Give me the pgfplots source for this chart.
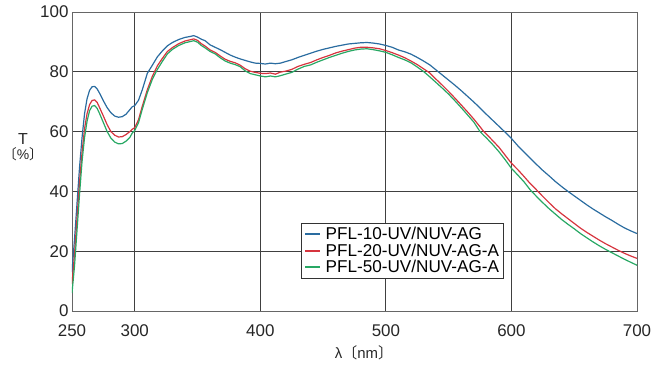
\documentclass[border=0pt]{standalone}
\usepackage{fontspec}
\setmainfont{Liberation Sans}
\newfontfamily\cjk{Noto Sans CJK JP}
\usepackage{pgfplots}
\pgfplotsset{compat=1.18}
\usepackage{pgfplotstable}
\definecolor{cblue}{RGB}{42,108,160}
\definecolor{cred}{RGB}{214,52,62}
\definecolor{cgreen}{RGB}{40,168,100}
\pgfplotstableread{
nm b r g
250 13 9 6
252 24 19 15
254 36 31 27
256 48 43 39
258 58 53 50
260 66 61 58
262 71 66 63.5
264 73.8 69 67
266 75 70.4 68.5
268 75.1 70.6 68.7
270 74.3 69.8 67.8
272 72.8 68 66
275 70.3 65.2 63
278 68 62.3 60
281 66.3 60 57.8
284 65.2 58.8 56.5
287 64.8 58.2 55.9
290 65 58.3 56
293 65.8 59 56.8
296 67.3 60 58
298 68.3 60.8 59.5
300 68.7 61.3 60.4
303 70.5 64 63
306 74 68.5 67.5
310 79.5 74 73
314 82.2 78.5 77.5
318 85 82 80.8
322 87 84.5 83.5
326 88.7 86.8 86
330 89.8 88.1 87.5
335 90.8 89.4 88.8
340 91.5 90.3 89.7
344 91.8 90.7 90.1
347 92.1 91 90.4
350 91.6 90.5 89.9
353 90.9 89.4 88.8
356 90.4 88.6 88
360 89 87.3 86.8
364 88.2 86.5 86
368 87.4 85.3 84.7
372 86.5 84.2 83.6
376 85.6 83.5 82.9
380 84.9 83 82.4
384 84.3 82.2 81.7
388 83.8 81 80.3
392 83.3 80.2 79.4
396 82.9 79.8 79
400 82.8 79.5 78.6
404 82.6 79.4 78.3
408 82.9 79.6 78.6
412 82.7 79.2 78.3
416 82.9 79.9 78.7
420 83.4 80.2 79.2
425 84 80.8 79.8
430 84.8 81.8 80.9
435 85.5 82.5 81.8
440 86.2 83.1 82.3
445 86.9 84 83.2
450 87.5 84.8 84
455 88 85.5 84.8
460 88.5 86.3 85.5
465 88.9 86.9 86.2
470 89.3 87.4 86.8
475 89.5 87.9 87.3
480 89.7 88.2 87.6
485 89.8 88.2 87.7
490 89.6 88 87.4
495 89.3 87.7 87
500 88.8 87.1 86.5
505 88.2 86.4 85.7
510 87.3 85.6 84.8
515 86.7 84.7 84
520 85.9 83.6 83
525 84.8 82.4 81.6
530 83.6 81 80.1
535 82.3 79.6 78.3
540 80.6 77.5 76.4
545 78.9 75.5 74.5
550 77.2 73.4 72.5
555 75.5 71.2 70.3
560 73.7 68.9 68
565 71.8 66.6 65.6
570 69.9 64.2 63.2
575 67.9 61.6 60
578 66.6 60 58.7
580 65.8 59.2 57.9
585 63.8 57 55.7
590 61.8 54.8 53.3
595 59.8 52.1 50.6
600 57.7 49.4 47.7
605 55.3 47.3 45.5
610 53.2 45 43.2
615 51.1 42.6 40.5
620 49 40.5 38.3
625 47 38.3 36.2
630 45.2 36.2 34.2
635 43.3 34.2 32.4
640 41.6 32.5 30.6
645 40 30.9 29
650 38.5 29.3 27.5
655 37 27.7 25.9
660 35.5 26.3 24.5
665 34.1 25 23.1
670 32.8 23.7 21.8
675 31.5 22.5 20.6
680 30.3 21.4 19.5
685 29 20.3 18.4
690 27.8 19.3 17.3
695 26.8 18.4 16.3
700 25.9 17.6 15.3
}\data
\begin{document}
\begin{tikzpicture}
\useasboundingbox (-72bp,-54bp) rectangle (590bp,311bp);
\begin{axis}[
  at={(0,0)}, anchor=south west,
  scale only axis, width=565bp, height=299bp,
  xmin=250, xmax=700, ymin=0, ymax=100,
  xtick={250,300,400,500,600,700}, ytick={0,20,...,100},
  grid=major,
  major grid style={draw=black!75, line width=0.8bp},
  axis line style={draw=black!60, line width=0.9bp},
  major tick length=0pt,
  /pgf/number format/assume math mode=true,
  /pgf/number format/1000 sep={},
  tick label style={font=\fontsize{17}{19}\selectfont, text=black!85},
  xticklabel style={yshift=-10bp},
  legend style={at={(rel axis cs:0.405,0.295)}, anchor=north west,
    font=\fontsize{17.2}{18}\selectfont, draw=black!80, line width=0.8bp,
    row sep=-0.5bp, column sep=3bp, inner xsep=3bp, inner ysep=2.5bp,
    nodes={inner sep=1.5bp}},
  legend cell align=left,
  legend image code/.code={\draw[#1, line width=2bp, line cap=butt] (0bp,0bp) -- (15bp,0bp);},
]
\addplot[draw=cblue, line width=1.2bp] table[x=nm, y=b] {\data};
\addlegendentry{PFL-10-UV/NUV-AG}
\addplot[draw=cred, line width=1.2bp] table[x=nm, y=r] {\data};
\addlegendentry{PFL-20-UV/NUV-AG-A}
\addplot[draw=cgreen, line width=1.2bp] table[x=nm, y=g] {\data};
\addlegendentry{PFL-50-UV/NUV-AG-A}
\end{axis}
\node[font=\fontsize{16}{17}\selectfont, text=black!85] at (-49bp,172bp) {T};
\node[font=\fontsize{14}{15}\selectfont, text=black!85] at (-49bp,157bp) {{\cjk 〔}\%{\cjk 〕}};
\node[font=\fontsize{15}{16}\selectfont, text=black!85] at (292bp,-42bp) {λ{\cjk 〔}nm{\cjk 〕}};
\end{tikzpicture}
\end{document}
